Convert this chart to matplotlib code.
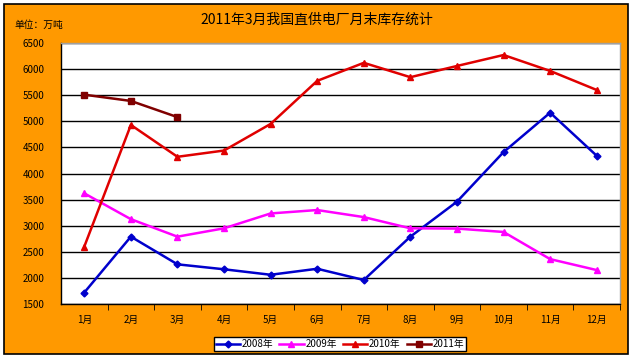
import matplotlib
matplotlib.use("Agg")
import matplotlib.pyplot as plt
from matplotlib.patches import Rectangle

plt.rcParams['font.family'] = ['Noto Sans CJK SC', 'DejaVu Sans']

months = ["1月", "2月", "3月", "4月", "5月", "6月", "7月", "8月", "9月", "10月", "11月", "12月"]
s2008 = [1720, 2790, 2260, 2165, 2060, 2175, 1960, 2790, 3460, 4410, 5165, 4340]
s2009 = [3620, 3125, 2790, 2950, 3235, 3300, 3165, 2950, 2945, 2880, 2360, 2150]
s2010 = [2600, 4930, 4320, 4440, 4950, 5775, 6120, 5845, 6060, 6270, 5965, 5600]
s2011 = [5510, 5390, 5080]
yticks = [1500, 2000, 2500, 3000, 3500, 4000, 4500, 5000, 5500, 6000, 6500]
title = "2011年3月我国直供电厂月末库存统计"
unit = "单位：万吨"

W, H = 634, 360
fig = plt.figure(figsize=(W / 100, H / 100), dpi=100)
fig.patch.set_facecolor("white")
fig.patches.append(Rectangle((4 / W, 1 - 354 / H), 624 / W, 350 / H, transform=fig.transFigure,
                             facecolor="#FF9900", edgecolor="black", linewidth=1.2, zorder=-10))

ax = fig.add_axes([61 / W, 1 - 304 / H, 559 / W, 261 / H])
ax.set_facecolor("white")
x = list(range(len(months)))

ax.plot(x, s2008, color="#0000CC", marker="D", markersize=3.5, linewidth=1.8, label="2008年")
ax.plot(x, s2009, color="#FF00FF", marker="^", markersize=4.5, linewidth=1.8, label="2009年")
ax.plot(x, s2010, color="#E00000", marker="^", markersize=4.5, linewidth=1.8, label="2010年")
ax.plot(x[:len(s2011)], s2011, color="#800000", marker="s", markersize=4, linewidth=1.8, label="2011年")

ax.set_xlim(-0.5, len(months) - 0.5)
ax.set_ylim(1500, 6500)
ax.set_yticks(yticks)
ax.set_yticklabels([str(v) for v in yticks], fontsize=7)
ax.yaxis.grid(True, color="black", linewidth=1)
ax.set_axisbelow(True)
ax.tick_params(axis="y", length=0, pad=12)

ax.set_xticks(x)
ax.set_xticklabels(months, fontsize=7)
ax.set_xticks([i + 0.5 for i in range(len(months))], minor=True)
ax.tick_params(axis="x", which="major", length=0, pad=8)
ax.tick_params(axis="x", which="minor", length=4, direction="out", color="black")

for s in ["left", "bottom"]:
    ax.spines[s].set_color("black")
    ax.spines[s].set_linewidth(1)
for s in ["top", "right"]:
    ax.spines[s].set_color("#A0A0A0")
    ax.spines[s].set_linewidth(1)

fig.text(317 / W, 1 - 20 / H, title, ha="center", va="center", fontsize=10)
fig.text(14 / W, 1 - 25 / H, unit, ha="left", va="center", fontsize=7)

leg = fig.legend(loc="center", bbox_to_anchor=(340 / W, 1 - 344 / H), ncol=4, fontsize=7,
                 frameon=True, fancybox=False, handlelength=2.5, handletextpad=0.2,
                 columnspacing=0.6, borderpad=0.2, borderaxespad=0)
leg.get_frame().set_edgecolor("black")
leg.get_frame().set_linewidth(1)
leg.get_frame().set_facecolor("white")
leg.get_frame().set_alpha(1)

fig.savefig("out.png", dpi=100, facecolor=fig.get_facecolor())
